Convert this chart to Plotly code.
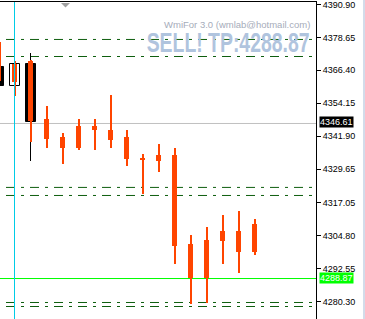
import plotly.graph_objects as go

# ---- data ----
# candle index: 0 = bar under the vertical cyan line
idx = [-1, 0, 1, 2, 3, 4, 5, 6, 7, 8, 9, 10, 11, 12, 13, 14, 15]
o_high = [4378.0, 4370.0, 4370.4, 4353.3, 4343.2, 4348.4, 4348.1, 4357.4, 4344.0,
          4335.4, 4339.1, 4337.3, 4305.2, 4308.2, 4312.7, 4314.2, 4311.2]
o_low = [4360.0, 4357.0, 4339.9, 4337.6, 4331.7, 4336.9, 4336.9, 4337.6, 4330.6,
         4320.5, 4328.7, 4294.1, 4279.5, 4279.9, 4294.4, 4291.1, 4297.8]
o_open = [4377.1, 4368.9, 4369.7, 4348.1, 4341.4, 4345.5, 4345.5, 4344.3, 4341.4,
          4333.9, 4335.0, 4335.0, 4301.9, 4303.4, 4306.4, 4306.4, 4309.3]
o_close = [4362.6, 4361.9, 4347.7, 4341.0, 4337.6, 4337.3, 4344.3, 4340.3, 4333.2,
           4333.2, 4332.8, 4301.1, 4289.2, 4288.9, 4303.0, 4298.9, 4298.9]

# standard (black / white) candles visible at the left
b_idx = [-1, 0, 1]
b_open = [4367.8, 4360.4, 4368.9]
b_close = [4360.4, 4368.9, 4347.0]
b_high = [4368.0, 4369.0, 4372.7]
b_low = [4360.0, 4360.0, 4332.8]

levels = [4377.9, 4371.55, 4322.8, 4319.8, 4279.95, 4278.45]
current_price = 4346.61
tp_price = 4288.87
vline_idx = 0

tick_vals = [4390.90, 4378.65, 4366.40, 4354.15, 4341.90, 4329.65,
             4317.05, 4304.80, 4292.55, 4280.30]
tick_text = ["4390.90", "4378.65", "4366.40", "4354.15", "4341.90", "4329.65",
             "4317.05", "4304.80", "4292.55", "4280.30"]

watermark_small = "WmiFor 3.0 (wmlab@hotmail.com)"
watermark_big = "SELL! TP:4288.87"

# ---- geometry ----
PX = 16.0  # pixels per bar
x_range = [-14.5 / PX, (316 - 14.5) / PX]
y_range = [4273.80, 4391.85]
ORANGE = "#FF4500"

fig = go.Figure()

# black candle wicks
fig.add_trace(go.Bar(
    x=b_idx, base=b_low, y=[h - l for h, l in zip(b_high, b_low)],
    width=1 / PX, marker=dict(color="black", line=dict(width=0)),
    hoverinfo="skip", showlegend=False))
# black/white candle bodies
fig.add_trace(go.Bar(
    x=b_idx, base=[min(o, c) for o, c in zip(b_open, b_close)],
    y=[abs(o - c) for o, c in zip(b_open, b_close)],
    width=10 / PX,
    marker=dict(color=["white" if c > o else "black" for o, c in zip(b_open, b_close)],
                line=dict(color="black", width=1)),
    hoverinfo="skip", showlegend=False))
# orange wicks
fig.add_trace(go.Bar(
    x=idx, base=o_low, y=[h - l for h, l in zip(o_high, o_low)],
    width=2 / PX, marker=dict(color=ORANGE, line=dict(width=0)),
    hoverinfo="skip", showlegend=False))
# orange bodies
fig.add_trace(go.Bar(
    x=idx, base=[min(o, c) for o, c in zip(o_open, o_close)],
    y=[max(abs(o - c), 0.4) for o, c in zip(o_open, o_close)],
    width=5 / PX, marker=dict(color=ORANGE, line=dict(width=0)),
    hoverinfo="skip", showlegend=False))

shapes = []
# dash-dot level lines
for lv in levels:
    shapes.append(dict(type="line", xref="x", yref="y",
                       x0=(-18 - 14.5) / PX, x1=x_range[1] + 1, y0=lv, y1=lv,
                       line=dict(color="#0E5E0E", width=1, dash="9px,6px,3px,6px"),
                       layer="below"))
# current price line
shapes.append(dict(type="line", xref="paper", yref="y", x0=0, x1=1,
                   y0=current_price, y1=current_price,
                   line=dict(color="#C0C0C0", width=1), layer="below"))
# TP line
shapes.append(dict(type="line", xref="paper", yref="y", x0=0, x1=1,
                   y0=tp_price, y1=tp_price,
                   line=dict(color="#00FF00", width=1), layer="below"))
# vertical cyan line
shapes.append(dict(type="line", xref="x", yref="paper", x0=vline_idx, x1=vline_idx,
                   y0=0, y1=1, line=dict(color="#00CCE6", width=1), layer="above"))
# small grey triangle at the top
shapes.append(dict(type="path", xref="paper", yref="paper",
                   path="M 0.193 0.9968 L 0.2215 0.9968 L 0.2073 0.9826 Z",
                   fillcolor="#A0A0A0", line=dict(width=0), layer="above"))
# window edge strip at far right
shapes.append(dict(type="rect", xref="paper", yref="paper",
                   x0=363 / 316, x1=366 / 316, y0=-0.01, y1=1.01,
                   fillcolor="#D3DCEA", line=dict(width=0)))

annotations = [
    dict(text=watermark_small, xref="paper", yref="paper",
         x=312 / 316, y=1 - 22 / 317, xanchor="right", yanchor="middle",
         showarrow=False, font=dict(family="Liberation Sans", size=9.5, color="#A6ACBA")),
    dict(text="<b>" + watermark_big + "</b>", xref="paper", yref="paper",
         x=312 / 316, y=1 - 41 / 317, xanchor="right", yanchor="middle",
         showarrow=False,
         font=dict(family="Liberation Sans", size=27, color="#B0C4DE")),
    dict(text="%.2f" % current_price, xref="paper", yref="y", x=1, y=current_price,
         xanchor="left", yanchor="middle", xshift=3, yshift=1, showarrow=False,
         bgcolor="black", borderpad=0,
         font=dict(family="Liberation Sans", size=9, color="white")),
    dict(text="%.2f" % tp_price, xref="paper", yref="y", x=1, y=tp_price,
         xanchor="left", yanchor="middle", xshift=3, yshift=1, showarrow=False,
         bgcolor="#00FF00", borderpad=0,
         font=dict(family="Liberation Sans", size=9, color="white")),
]

fig.update_layout(
    width=365, height=319,
    margin=dict(l=0, r=49, t=2, b=0),
    paper_bgcolor="white", plot_bgcolor="white",
    barmode="overlay", bargap=0,
    shapes=shapes, annotations=annotations,
    showlegend=False,
    xaxis=dict(range=x_range, side="top", showline=True, linecolor="black", linewidth=1,
               showticklabels=False, ticks="", showgrid=False, zeroline=False,
               fixedrange=True),
    yaxis=dict(range=y_range, side="right", showline=True, linecolor="black",
               linewidth=1, ticks="outside", ticklen=4, tickcolor="black",
               tickvals=tick_vals, ticktext=tick_text, showgrid=False, zeroline=False,
               ticklabeloverflow="allow",
               tickfont=dict(family="Liberation Sans", size=9, color="black"),
               fixedrange=True),
)

# condense the big watermark horizontally (Impact-like narrow lettering)
post_js = """
var gd = document.getElementById('{plot_id}');
gd.querySelectorAll('text.annotation-text').forEach(function(t){
  if (t.textContent.indexOf('SELL') >= 0) {
    var bb = t.getBBox();
    var right = bb.x + bb.width;
    var sx = 163 / bb.width;
    t.setAttribute('transform', 'translate(' + (right * (1 - sx)) + ',0) scale(' + sx + ',1)');
  }
});
"""

fig.write_html("out.html", post_script=post_js)
